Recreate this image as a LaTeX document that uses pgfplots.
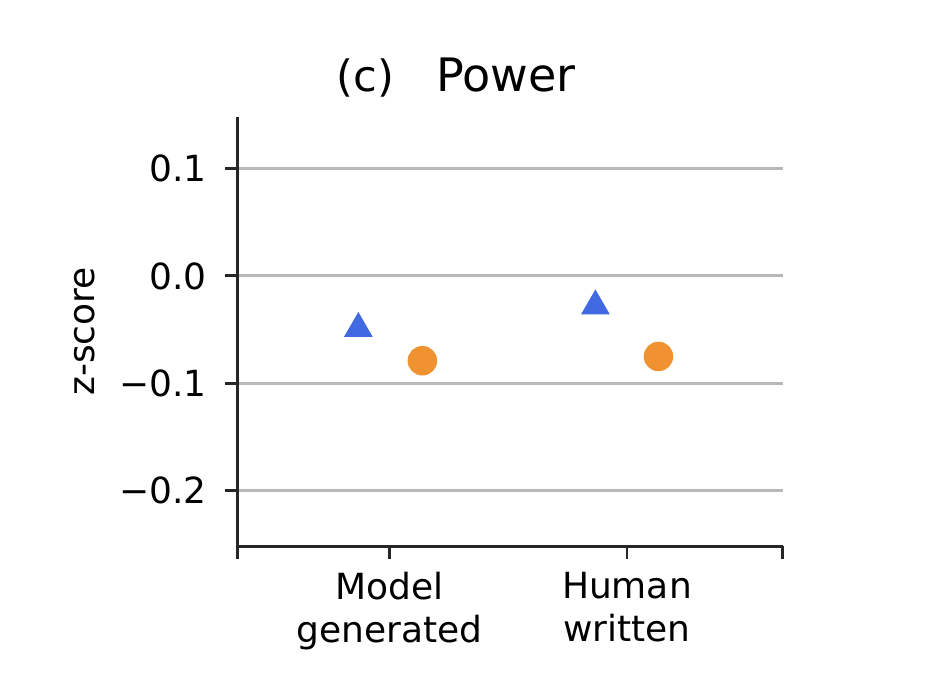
\documentclass[border=0pt]{standalone}
\usepackage{fontspec}
\setmainfont{DejaVu Sans}
\usepackage{pgfplots}
\pgfplotsset{compat=1.18}
\definecolor{mblue}{HTML}{4169E1}
\definecolor{morange}{HTML}{F0922F}
\definecolor{gridgray}{HTML}{B8B8B8}
\begin{document}
\begin{tikzpicture}
\path[use as bounding box] (-66.1pt,-36.1pt) rectangle (196.7pt,151.7pt);
\begin{axis}[
    scale only axis,
    width=151.4pt, height=119.2pt,
    xmin=-0.641, xmax=1.658,
    ymin=-0.2516, ymax=0.148,
    axis lines=left,
    x axis line style={-}, y axis line style={-},
    axis line style={line width=0.8pt, black!85},
    tick align=outside,
    major tick length=3.6pt,
    tick style={line width=0.8pt, black!85},
    xtick={-0.641,0,1,1.658},
    xticklabels={{},{Model\\generated},{Human\\written},{}},
    xticklabel style={align=center, font=\fontsize{10}{12}\selectfont},
    ytick={-0.2,-0.1,0,0.1},
    yticklabels={−0.2,−0.1,0.0,0.1},
    yticklabel style={font=\fontsize{10}{12}\selectfont, xshift=-1.5pt},
    ymajorgrids,
    grid style={line width=0.8pt, gridgray},
    ylabel={z-score},
    ylabel style={font=\fontsize{10}{12}\selectfont},
    clip=false,
]
\addplot[only marks, mark=triangle*, mark size=4.2pt, color=mblue]
    coordinates {(-0.133,-0.049) (0.867,-0.028)};
\addplot[only marks, mark=*, mark size=3.9pt, color=morange]
    coordinates {(0.137,-0.079) (1.133,-0.075)};
\node[anchor=base, inner sep=0pt, font=\fontsize{12.8}{15}\selectfont] at (rel axis cs:0.492,1) [yshift=7pt] {Power};
\node[anchor=base east, inner sep=0pt, font=\fontsize{12}{14.4}\selectfont] at (rel axis cs:0.288,1) [yshift=7pt] {(c)};
\end{axis}
\end{tikzpicture}
\end{document}
